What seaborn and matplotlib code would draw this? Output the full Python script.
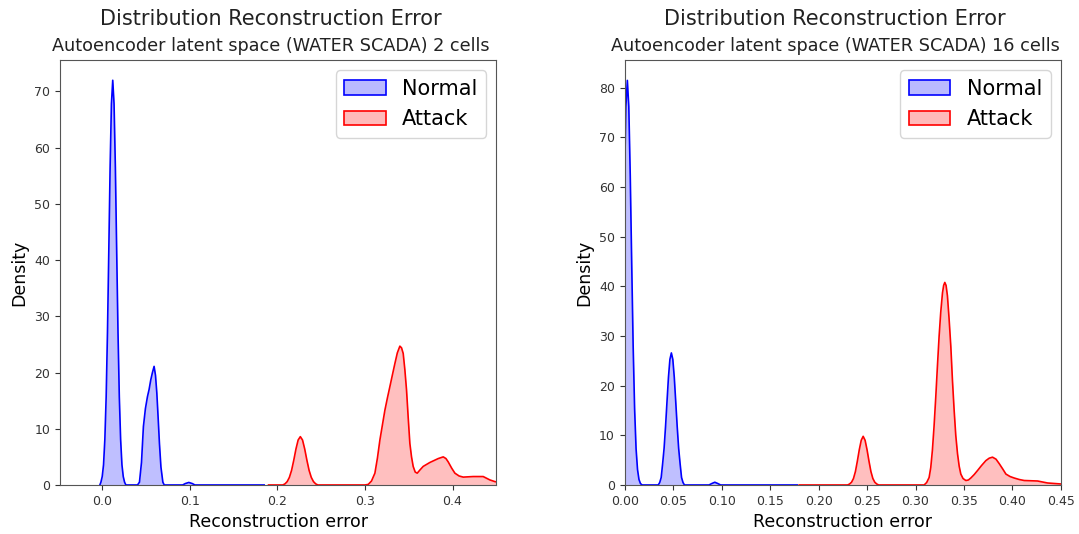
import matplotlib
matplotlib.use("Agg")
import matplotlib.pyplot as plt
import seaborn as sns
import pandas as pd
from matplotlib.patches import Patch

main_title = "Distribution Reconstruction Error"
subtitles = ["Autoencoder latent space (WATER SCADA) 2 cells",
             "Autoencoder latent space (WATER SCADA) 16 cells"]
series_names = ["Normal", "Attack"]
series_colors = ["blue", "red"]

# ---- panel 1 (2 cells): density curves ----
p1_normal_x = [-0.0025, -0.0013, 0.0002, 0.0017, 0.0032, 0.0047, 0.0062, 0.0077, 0.0092, 0.0107,
               0.0122, 0.0137, 0.0152, 0.0167, 0.0182, 0.0197, 0.0212, 0.0227, 0.0242, 0.0257,
               0.0272, 0.0405, 0.0427, 0.045, 0.0472, 0.0495, 0.0518, 0.0537, 0.0556, 0.0575,
               0.0594, 0.061, 0.0625, 0.064, 0.0655, 0.0672, 0.0694, 0.071,
               0.092, 0.095, 0.099, 0.103, 0.106, 0.185]
p1_normal_y = [0.0, 0.5, 1.5, 3.6, 8.1, 15.7, 27.2, 41.6, 56.5, 67.8,
               72.0, 67.8, 56.5, 41.6, 27.2, 15.7, 8.1, 3.6, 1.5, 0.5,
               0.0, 0.0, 0.5, 4.0, 10.4, 13.6, 15.7, 17.0, 18.7, 20.0,
               21.1, 19.5, 16.4, 12.0, 7.4, 3.2, 0.5, 0.0,
               0.0, 0.25, 0.45, 0.25, 0.0, 0.0]
p1_attack_x = [0.19, 0.2063, 0.2088, 0.2113, 0.2138, 0.2163, 0.2188, 0.2213, 0.2238, 0.2263,
               0.2288, 0.2313, 0.2338, 0.2363, 0.2388, 0.2413, 0.2438, 0.2463,
               0.300, 0.3038, 0.3075, 0.3114, 0.3143, 0.3171, 0.3200, 0.3228, 0.3257, 0.3285,
               0.3314, 0.3342, 0.3370, 0.3399, 0.3418, 0.3437, 0.3456, 0.3475, 0.3494, 0.3513,
               0.3532, 0.3551, 0.3574, 0.3597, 0.3630, 0.3665, 0.3741, 0.3837, 0.3894, 0.3925,
               0.3951, 0.3990, 0.4027, 0.4075, 0.4122, 0.4236, 0.4350, 0.4426, 0.4483, 0.4600]
p1_attack_y = [0.0, 0.0, 0.2, 0.6, 1.35, 2.6, 4.4, 6.4, 8.0, 8.6,
               8.0, 6.4, 4.4, 2.6, 1.35, 0.6, 0.2, 0.0,
               0.0, 0.1, 0.7, 2.1, 4.8, 8.0, 10.7, 13.3, 15.5, 17.5,
               19.6, 21.6, 23.5, 24.7, 24.4, 23.4, 20.5, 16.9, 12.0, 7.4,
               5.0, 3.3, 2.3, 2.1, 2.7, 3.3, 4.0, 4.7, 5.0, 4.7,
               4.1, 3.0, 2.1, 1.6, 1.4, 1.5, 1.5, 0.9, 0.6, 0.3]

# ---- panel 2 (16 cells) ----
p2_normal_x = [0.0, 0.0, 0.0013, 0.0028, 0.0043, 0.0058, 0.0073, 0.0088, 0.0103, 0.0118,
               0.0133, 0.0148, 0.0163, 0.018,
               0.0347, 0.0362, 0.0377, 0.0392, 0.0407, 0.0422, 0.0437, 0.0452, 0.0467, 0.0482,
               0.0497, 0.0512, 0.0527, 0.0542, 0.0557, 0.0572, 0.0587, 0.0602, 0.0617,
               0.087, 0.090, 0.093, 0.096, 0.099, 0.178]
p2_normal_y = [0.0, 62.3, 76.2, 81.5, 76.2, 62.3, 44.6, 27.9, 15.3, 7.3,
               3.1, 1.1, 0.3, 0.0,
               0.0, 0.5, 1.5, 4.3, 7.4, 11.8, 16.8, 21.7, 25.3, 26.6,
               25.3, 21.7, 16.8, 11.8, 7.4, 4.3, 1.5, 0.5, 0.0,
               0.0, 0.3, 0.55, 0.3, 0.0, 0.0]
p2_attack_x = [0.18, 0.230, 0.232, 0.234, 0.236, 0.238, 0.240, 0.242, 0.244, 0.246,
               0.248, 0.250, 0.252, 0.254, 0.256, 0.258, 0.260, 0.262,
               0.3089, 0.3115, 0.3140, 0.3157, 0.3174, 0.3191, 0.3209, 0.3226, 0.3243, 0.3260,
               0.3278, 0.3290, 0.3302, 0.3315, 0.3329, 0.3346, 0.3364, 0.3381, 0.3398, 0.3415,
               0.3433, 0.3450, 0.3467, 0.3490, 0.3519, 0.3545, 0.3570, 0.3605, 0.3639, 0.3680,
               0.3725, 0.3760, 0.3794, 0.3830, 0.3863, 0.3900, 0.3932, 0.3975, 0.4018, 0.4070,
               0.4121, 0.4190, 0.4259, 0.4310, 0.4362, 0.4430, 0.4500, 0.4600]
p2_attack_y = [0.0, 0.0, 0.2, 0.55, 1.3, 2.7, 4.8, 7.1, 9.0, 9.8,
               9.0, 7.1, 4.8, 2.7, 1.3, 0.55, 0.2, 0.0,
               0.0, 0.5, 1.5, 3.5, 7.0, 11.8, 17.8, 24.0, 29.9, 34.8,
               38.7, 40.2, 40.8, 40.2, 38.1, 33.5, 27.9, 21.0, 15.1, 10.0,
               6.3, 3.8, 2.2, 1.3, 0.9, 1.0, 1.4, 2.1, 2.9, 3.9,
               4.9, 5.4, 5.6, 5.2, 4.3, 3.2, 2.2, 1.7, 1.4, 1.1,
               0.9, 0.85, 0.8, 0.6, 0.4, 0.3, 0.2, 0.1]

p2_xticks = [0.0, 0.05, 0.10, 0.15, 0.20, 0.25, 0.30, 0.35, 0.40, 0.45]

panels = [
    {"normal": (p1_normal_x, p1_normal_y), "attack": (p1_attack_x, p1_attack_y),
     "xlim": (-0.048, 0.45), "ylim": (0, 75.6), "xticks": None},
    {"normal": (p2_normal_x, p2_normal_y), "attack": (p2_attack_x, p2_attack_y),
     "xlim": (0.0, 0.45), "ylim": (0, 85.6), "xticks": p2_xticks},
]

fig, axes = plt.subplots(1, 2, figsize=(10.79, 5.34), dpi=100)
fig.subplots_adjust(left=0.0556, right=0.9833, bottom=0.0918, top=0.8876, wspace=0.294)

for ax, panel, sub in zip(axes, panels, subtitles):
    for key, name, col in zip(["normal", "attack"], series_names, series_colors):
        xs, ys = panel[key]
        df = pd.DataFrame({"Reconstruction error": xs, "Density": ys})
        sns.lineplot(data=df, x="Reconstruction error", y="Density", estimator=None,
                     sort=False, color=col, lw=1.2, ax=ax)
        ax.fill_between(df["Reconstruction error"], df["Density"], color=col,
                        alpha=0.25, lw=0)
    ax.set_xlim(*panel["xlim"])
    ax.set_ylim(*panel["ylim"])
    if panel["xticks"] is not None:
        ax.set_xticks(panel["xticks"])
    ax.set_xlabel("Reconstruction error", fontsize=12.5)
    ax.set_ylabel("Density", fontsize=12.5)
    ax.tick_params(labelsize=9, colors="#333333")
    for s in ax.spines.values():
        s.set_color("#555555")
    ax.text(0.482, 1.022, sub, transform=ax.transAxes, ha="center",
            va="baseline", fontsize=12.7, color="#222222")
    ax.text(0.482, 1.0835, main_title, transform=ax.transAxes, ha="center",
            va="baseline", fontsize=15, color="#222222")
    handles = [Patch(facecolor=(0, 0, 1, 0.27), edgecolor="blue", lw=1.2),
               Patch(facecolor=(1, 0, 0, 0.27), edgecolor="red", lw=1.2)]
    ax.legend(handles, series_names, loc="upper right", fontsize=15)

fig.savefig("out.png", dpi=100)
